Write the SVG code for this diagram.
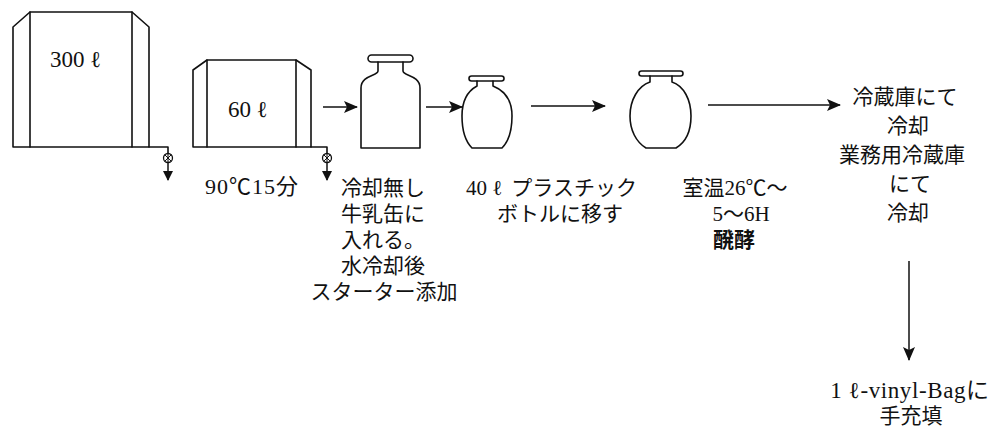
<svg xmlns="http://www.w3.org/2000/svg" width="1004" height="433" viewBox="0 0 1004 433">
  <style>
    .ln { fill: none; stroke: #111; stroke-width: 1.6; stroke-linejoin: round; stroke-linecap: round; }
    .ar { fill: none; stroke: #111; stroke-width: 1.5; }
    .t { font-family: "Liberation Serif", "Noto Sans CJK JP", serif; font-size: 21px; fill: #111; }
    .big { font-size: 23px; }
    .mid { font-size: 22px; }
    .m { text-anchor: middle; }
  </style>
  <defs>
    <marker id="head" viewBox="0 0 14 12" refX="13" refY="6" markerWidth="14" markerHeight="12" markerUnits="userSpaceOnUse" orient="auto">
      <path d="M0,0 L14,6 L0,12 L3,6 Z" fill="#111"/>
    </marker>
    <marker id="headSmall" viewBox="0 0 10 10" refX="9" refY="5" markerWidth="11" markerHeight="10" markerUnits="userSpaceOnUse" orient="auto">
      <path d="M0,0 L10,5 L0,10 Z" fill="#111"/>
    </marker>
    <g id="valve">
      <circle cx="0" cy="0" r="4.5" fill="#fff" stroke="#111" stroke-width="1.3"/>
      <path d="M-3.2,-3.2 L3.2,3.2 M3.2,-3.2 L-3.2,3.2 M0,-4.5 V4.5" stroke="#111" stroke-width="1"/>
    </g>
  </defs>

  <!-- 300 L tank -->
  <g id="tank300">
    <path class="ln" d="M13,147 V27 L30,12 H132 L149,27 V147 Z"/>
    <path class="ln" d="M30,12 V147 M132,12 V147"/>
    <path class="ln" d="M149,147 H168 V153.5"/>
    <use href="#valve" x="168" y="158"/>
    <line class="ar" x1="168" y1="162.5" x2="168" y2="180" marker-end="url(#headSmall)"/>
    <text class="t big" x="50" y="67">300 ℓ</text>
  </g>

  <!-- 60 L tank -->
  <g id="tank60">
    <path class="ln" d="M193,147 V70 L207,60 H296 L311,70 V147 Z"/>
    <path class="ln" d="M207,60 V147 M296,60 V147"/>
    <path class="ln" d="M311,147 H327 V153.5"/>
    <use href="#valve" x="327" y="158"/>
    <line class="ar" x1="327" y1="162.5" x2="327" y2="180" marker-end="url(#headSmall)"/>
    <text class="t big" x="228" y="117">60 ℓ</text>
    <text class="t mid" x="205" y="194" letter-spacing="1">90℃15分</text>
  </g>

  <!-- milk can -->
  <g id="milkCan">
    <rect class="ln" x="368" y="55" width="45" height="7" rx="3.5"/>
    <path class="ln" d="M378,62 V71 C378,76 361,75 361,88 V148 H420 V88 C420,75 403,76 403,71 V62"/>
    <text class="t" x="341" y="195">冷却無し</text>
    <text class="t" x="341" y="221">牛乳缶に</text>
    <text class="t" x="341" y="247">入れる。</text>
    <text class="t" x="341" y="273">水冷却後</text>
    <text class="t m" x="384" y="299">スターター添加</text>
  </g>

  <!-- 40 L plastic bottle -->
  <g id="bottle40">
    <rect class="ln" x="469" y="76" width="35" height="5" rx="2.5"/>
    <path class="ln" d="M477,81 V86 C466,92 462,104 462,116 C462,130 466,142 472,148 H502 C508,142 512,130 512,116 C512,104 508,92 493,86 V81"/>
    <text class="t" x="466" y="195">40 ℓ<tspan dx="9">プラスチック</tspan></text>
    <text class="t m" x="560" y="221">ボトルに移す</text>
  </g>

  <!-- fermentation bottle -->
  <g id="bottleFerment">
    <rect class="ln" x="639" y="71" width="44" height="5" rx="2.5"/>
    <path class="ln" d="M650,76 V82 C638,86 630,100 630,116 C630,130 636,142 646,148 H676 C686,142 691,130 691,116 C691,100 684,86 672,82 V76"/>
    <text class="t m" x="735" y="195">室温26℃～</text>
    <text class="t m" x="741" y="221">5～6H</text>
    <text class="t m" x="734" y="247" font-weight="bold">醗酵</text>
  </g>

  <!-- refrigeration -->
  <g id="cooling">
    <text class="t m" x="905" y="104">冷蔵庫にて</text>
    <text class="t m" x="908" y="133">冷却</text>
    <text class="t m" x="902" y="162">業務用冷蔵庫</text>
    <text class="t m" x="910" y="191">にて</text>
    <text class="t m" x="908" y="220">冷却</text>
  </g>

  <!-- bag filling -->
  <g id="filling">
    <text class="t big m" x="910" y="398" letter-spacing="0.6">1 ℓ-vinyl-Bagに</text>
    <text class="t m" x="911" y="423">手充填</text>
  </g>

  <!-- connectors -->
  <g id="connectors">
    <line class="ar" x1="323" y1="107" x2="357" y2="107" marker-end="url(#head)"/>
    <line class="ar" x1="426" y1="107" x2="462" y2="107" marker-end="url(#head)"/>
    <line class="ar" x1="531" y1="106" x2="605" y2="106" marker-end="url(#head)"/>
    <line class="ar" x1="708" y1="105" x2="840" y2="105" marker-end="url(#head)"/>
    <line class="ar" x1="909" y1="261" x2="909" y2="360" marker-end="url(#head)"/>
  </g>
</svg>
